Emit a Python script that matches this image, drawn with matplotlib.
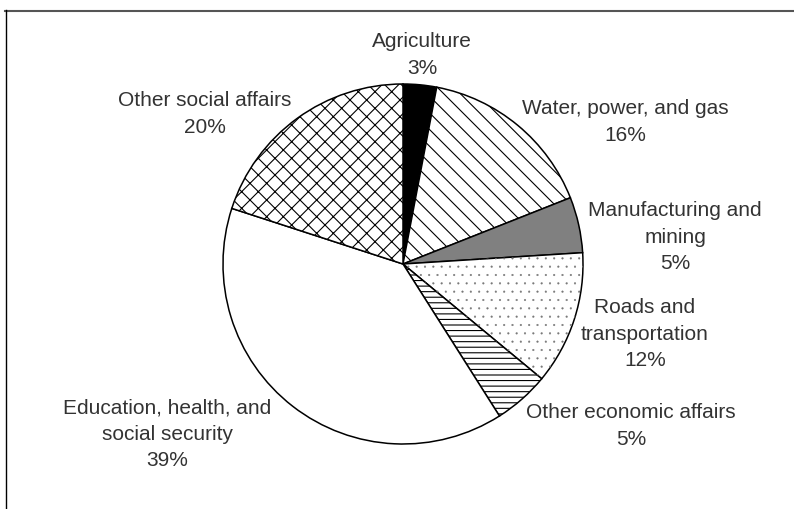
import matplotlib
matplotlib.use("Agg")
import matplotlib.pyplot as plt
from matplotlib.lines import Line2D
from matplotlib.patches import Wedge

# ---- data ----
categories = ["Agriculture", "Water, power, and gas", "Manufacturing and\nmining",
              "Roads and\ntransportation", "Other economic affairs",
              "Education, health, and\nsocial security", "Other social affairs"]
shares = [3, 16, 5, 12, 5, 39, 20]

# ---- styles / layout ----
face_colors = ["black", "white", "#808080", "white", "white", "white", "white"]
hatches = [None, "\\\\", None, None, "---", None, "xx"]
dot_wedge = 3  # index of the dotted wedge
# label block centres in pixel coords (x from left, y from top)
label_pos = [(422, 55), (625, 122), (675, 237), (645, 334), (631, 426),
             (167, 434), (205, 114)]

W, H = 794, 509
plt.rcParams["font.family"] = ["Liberation Sans", "DejaVu Sans"]
plt.rcParams["hatch.linewidth"] = 0.8
plt.rcParams["hatch.color"] = "black"

fig = plt.figure(figsize=(W / 100, H / 100), dpi=100)
ax = fig.add_axes([0, 0, 1, 1])

wedges, _ = ax.pie(shares, startangle=90, counterclock=False,
                   center=(403, H - 264), radius=180, frame=True,
                   colors=face_colors,
                   wedgeprops=dict(edgecolor="black", linewidth=1.1))
for w, h in zip(wedges, hatches):
    if h:
        w.set_hatch(h)

# sparse light dots for the dotted wedge (same geometry as the pie wedge)
dw = wedges[dot_wedge]
overlay = Wedge(dw.center, dw.r, dw.theta1, dw.theta2, fill=False,
                edgecolor="#777777", linewidth=0, hatch="..", zorder=dw.get_zorder())
if hasattr(overlay, "set_hatch_linewidth"):
    overlay.set_hatch_linewidth(0.3)
ax.add_patch(overlay)
dw.set_zorder(dw.get_zorder())

ax.set_xlim(0, W)
ax.set_ylim(0, H)
ax.set_aspect("equal")
ax.axis("off")

for name, val, (x, y) in zip(categories, shares, label_pos):
    ax.text(x, H - y, f"{name}\n{val}%", ha="center", va="center",
            multialignment="center", fontsize=15, color="#333333",
            linespacing=1.48)

# frame lines (top and left)
fig.add_artist(Line2D([5 / W, 1], [1 - 11 / H, 1 - 11 / H],
                      transform=fig.transFigure, color="#555555", linewidth=1.5))
fig.add_artist(Line2D([6 / W, 6 / W], [1 - 10 / H, 0],
                      transform=fig.transFigure, color="black", linewidth=1.0))

fig.savefig("out.png", dpi=100)
